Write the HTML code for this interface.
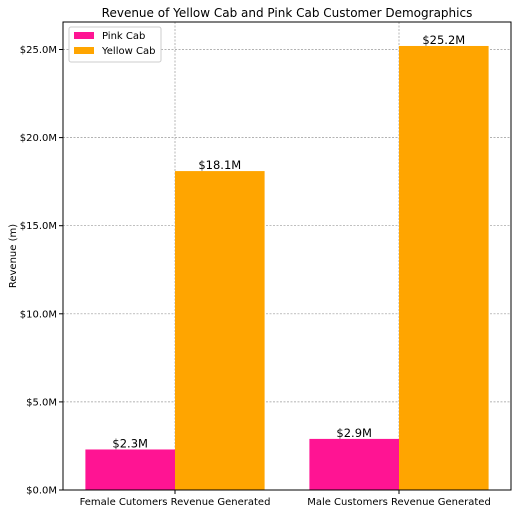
<!DOCTYPE html>
<html><head><meta charset="utf-8"><style>
body{margin:0;background:#fff;}
svg{font-family:"DejaVu Sans","Liberation Sans",sans-serif;}
</style></head><body>
<svg id="chart" width="515" height="514"></svg>
<script>
const categories=["Female Cutomers Revenue Generated","Male Customers Revenue Generated"];
const pinkValues=[2.3,2.9];
const yellowValues=[18.1,25.2];
const pinkLabels=["$2.3M","$2.9M"];
const yellowLabels=["$18.1M","$25.2M"];
const yTicks=[0,5,10,15,20,25];
const yTickLabels=["$0.0M","$5.0M","$10.0M","$15.0M","$20.0M","$25.0M"];

const L=63,R=511,T=22,B=490;
function yy(v){return B-v*(B-49.5)/25;}
function xx(v){return L+(v+0.5)*(R-L)/2;}
const bw=0.4*(R-L)/2;
const svg=document.getElementById('chart');
const NS="http://www.w3.org/2000/svg";
function mk(tag,attrs,parent){const e=document.createElementNS(NS,tag);for(const k in attrs)e.setAttribute(k,attrs[k]);(parent||svg).appendChild(e);return e;}

let t=mk('text',{x:287,y:17,'text-anchor':'middle','font-size':12,fill:'#000'});t.textContent="Revenue of Yellow Cab and Pink Cab Customer Demographics";



yTicks.forEach((v,i)=>{
 const g=mk('line',{x1:L,x2:R,y1:yy(v),y2:yy(v),stroke:'#999','stroke-width':0.7,'stroke-dasharray':'2,1.5'});
 
 
 const tk=mk('line',{x1:L-4,x2:L,y1:yy(v),y2:yy(v),stroke:'#000'});
 
 
 const lb=mk('text',{x:L-6,y:yy(v)+3.5,'text-anchor':'end','font-size':10});lb.textContent=yTickLabels[i];
 
 
});
categories.forEach((c,i)=>{
 const g=mk('line',{x1:xx(i),x2:xx(i),y1:T,y2:B,stroke:'#999','stroke-width':0.7,'stroke-dasharray':'2,1.5'});
 
 
});
categories.forEach((c,i)=>{
 const p=mk('rect',{x:xx(i)-bw,y:yy(pinkValues[i]),width:bw,height:B-yy(pinkValues[i]),fill:'#ff1493'});
 
 
 const yb=mk('rect',{x:xx(i),y:yy(yellowValues[i]),width:bw,height:B-yy(yellowValues[i]),fill:'#ffa500'});
 
 
 const pl=mk('text',{x:xx(i)-bw/2,y:yy(pinkValues[i])-2,'text-anchor':'middle','font-size':11.5});pl.textContent=pinkLabels[i];
 
 
 const yl=mk('text',{x:xx(i)+bw/2,y:yy(yellowValues[i])-2,'text-anchor':'middle','font-size':11.5});yl.textContent=yellowLabels[i];
 
 
 const tk=mk('line',{x1:xx(i),x2:xx(i),y1:B,y2:B+4,stroke:'#000'});
 
 
 const xl=mk('text',{x:xx(i),y:B+15,'text-anchor':'middle','font-size':10});xl.textContent=c;
 
 
});
const fr=mk('rect',{x:L,y:T,width:R-L,height:B-T,fill:'none',stroke:'#000','stroke-width':1});


const yt=mk('text',{x:16,y:(T+B)/2,'text-anchor':'middle','font-size':10,transform:`rotate(-90 16 ${(T+B)/2})`});yt.textContent="Revenue (m)";



const lg=mk('g',{});


mk('rect',{x:69,y:27,width:92,height:35,fill:'#fff',stroke:'#ccc',rx:2},lg);
[["Pink Cab","#ff1493"],["Yellow Cab","#ffa500"]].forEach((e,i)=>{
 const s=mk('rect',{x:74,y:32+i*15,width:20,height:7,fill:e[1]},lg);
 
 
 const tx=mk('text',{x:102,y:39+i*15,'font-size':10},lg);tx.textContent=e[0];
 
 
});
</script>
</body></html>
